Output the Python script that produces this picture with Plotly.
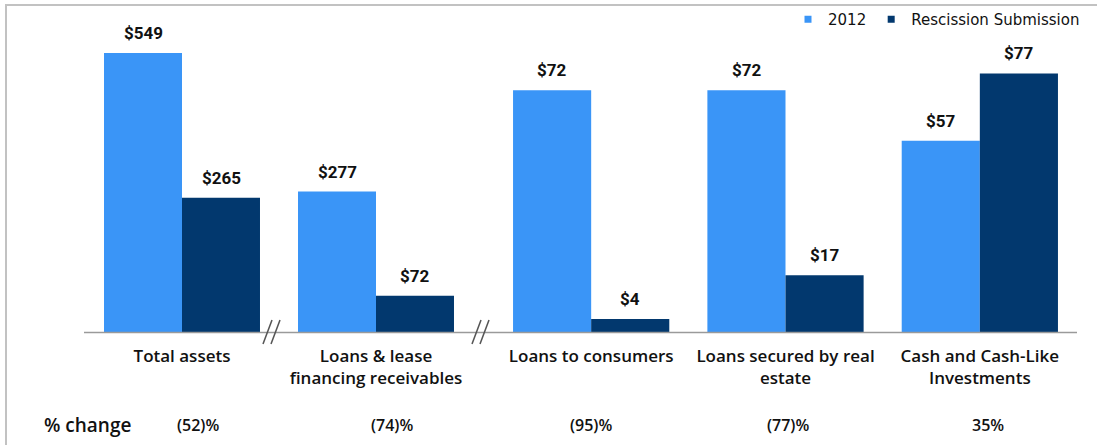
import plotly.graph_objects as go

# ---- data ----
cats_left = ["Total assets", "Loans & lease<br>financing receivables"]
cats_right = ["Loans to consumers", "Loans secured by real<br>estate", "Cash and Cash-Like<br>Investments"]
vals_2012_left = [549, 277]
vals_resc_left = [265, 72]
vals_2012_right = [72, 72, 57]
vals_resc_right = [4, 17, 77]
pct_change = ["(52)%", "(74)%", "(95)%", "(77)%", "35%"]
series_names = ["2012", "Rescission Submission"]

C_LIGHT = "#3A95F7"
C_DARK = "#02386E"
W, H = 1097, 445

def px_x(p):
    return p / W

def px_y(p):
    return 1 - p / H

fig = go.Figure()

# bars: left panel (x, y), right panel (x2, y2)
fig.add_bar(x=cats_left, y=vals_2012_left, marker_color=C_LIGHT, marker_line_width=0,
            xaxis="x", yaxis="y", showlegend=False, name=series_names[0])
fig.add_bar(x=cats_left, y=vals_resc_left, marker_color=C_DARK, marker_line_width=0,
            xaxis="x", yaxis="y", showlegend=False, name=series_names[1])
fig.add_bar(x=cats_right, y=vals_2012_right, marker_color=C_LIGHT, marker_line_width=0,
            xaxis="x2", yaxis="y2", showlegend=False, name=series_names[0])
fig.add_bar(x=cats_right, y=vals_resc_right, marker_color=C_DARK, marker_line_width=0,
            xaxis="x2", yaxis="y2", showlegend=False, name=series_names[1])

# legend entries with small square markers
for nm, col in zip(series_names, [C_LIGHT, C_DARK]):
    fig.add_scatter(x=[None], y=[None], mode="markers", name=nm,
                    marker=dict(symbol="square", size=7, color=col),
                    xaxis="x2", yaxis="y2", showlegend=True)

annotations = []
VAL_FONT = dict(family="Roboto", size=17, color="#111111", weight=700)
groups = [("x", "y", cats_left, vals_2012_left, vals_resc_left),
          ("x2", "y2", cats_right, vals_2012_right, vals_resc_right)]
for xr, yr, cats, v1, v2 in groups:
    for c, a, b in zip(cats, v1, v2):
        annotations.append(dict(x=c, y=a, xref=xr, yref=yr, text=f"${a}", showarrow=False,
                                xshift=-39, yshift=8, yanchor="bottom", font=VAL_FONT))
        annotations.append(dict(x=c, y=b, xref=xr, yref=yr, text=f"${b}", showarrow=False,
                                xshift=39, yshift=8, yanchor="bottom", font=VAL_FONT))

# % change row
LBL_FONT = dict(family="Open Sans", size=17, color="#111111", weight=600)
PCT_FONT = dict(family="Open Sans", size=16, color="#111111", weight=600)
HDR_FONT = dict(family="Open Sans", size=19, color="#111111", weight=600)
pct_shift = [16, 16, 0, 2, 8]
all_cats = [("x", c) for c in cats_left] + [("x2", c) for c in cats_right]
for (xr, c), t, s in zip(all_cats, pct_change, pct_shift):
    annotations.append(dict(x=c, xref=xr, y=px_y(425), yref="paper", text=t, showarrow=False,
                            xshift=s, yanchor="middle", font=PCT_FONT))
annotations.append(dict(x=px_x(87), xref="paper", y=px_y(425), yref="paper", text="% change",
                        showarrow=False, yanchor="middle", xanchor="center", font=HDR_FONT))

shapes = [
    # frame
    dict(type="rect", xref="paper", yref="paper", x0=px_x(6), x1=1.02, y0=-0.05, y1=px_y(5),
         line=dict(color="#C2C2C2", width=2)),
    # baseline
    dict(type="line", xref="paper", yref="paper", x0=px_x(84), x1=px_x(1077), y0=px_y(332.5), y1=px_y(332.5),
         line=dict(color="#9A9A9A", width=1.5)),
]
# axis-break marks
for bx in [263, 472]:
    for dx in [0, 8]:
        shapes.append(dict(type="line", xref="paper", yref="paper",
                           x0=px_x(bx + dx), y0=px_y(344), x1=px_x(bx + dx + 9), y1=px_y(320),
                           line=dict(color="#555555", width=1.5)))

y_dom = [px_y(332.5), px_y(20)]
xaxis_common = dict(showline=False, showgrid=False, zeroline=False, ticks="",
                    tickfont=LBL_FONT, ticklabelstandoff=11, fixedrange=True)
fig.update_layout(
    width=W, height=H,
    margin=dict(l=0, r=0, t=0, b=0),
    paper_bgcolor="white", plot_bgcolor="white",
    barmode="group", bargap=0.196, bargroupgap=0,
    xaxis=dict(domain=[px_x(85), px_x(473)], anchor="y", range=[-0.5, 1.5], **xaxis_common),
    xaxis2=dict(domain=[px_x(494), px_x(1077)], anchor="y2", range=[-0.5, 2.5], **xaxis_common),
    yaxis=dict(domain=y_dom, range=[0, 614], visible=False, fixedrange=True),
    yaxis2=dict(domain=y_dom, range=[0, 92.9], visible=False, fixedrange=True),
    legend=dict(orientation="h", x=px_x(1085), xanchor="right", y=px_y(3), yanchor="top",
                font=dict(family="DejaVu Sans", size=15, color="#111111"),
                bgcolor="rgba(0,0,0,0)", itemwidth=30, traceorder="normal"),
    annotations=annotations,
    shapes=shapes,
)

fig.write_html("out.html")
